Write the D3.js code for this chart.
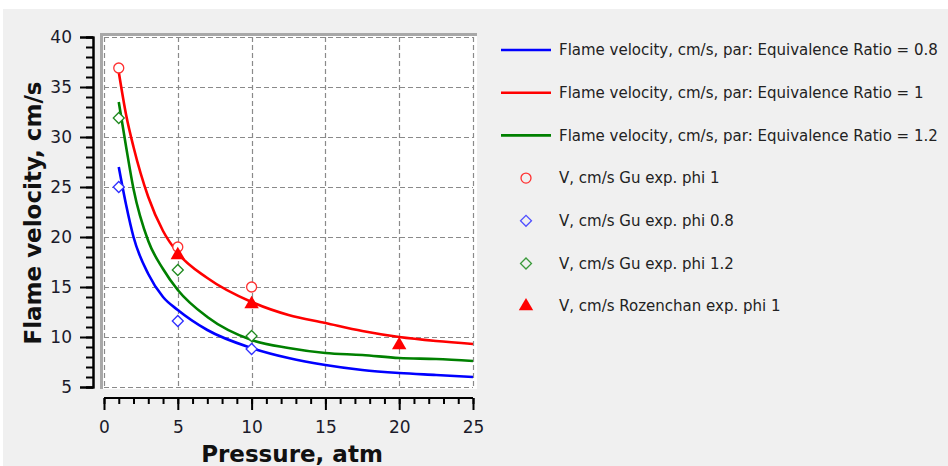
<!DOCTYPE html>
<html>
<head>
<meta charset="utf-8">
<script src="https://cdn.jsdelivr.net/npm/d3@7"></script>
<style>
  html, body { margin: 0; padding: 0; background: #fff; }
  svg { display: block; }
</style>
</head>
<body>
<svg id="mainsvg" width="948" height="466"></svg>
<script>
// model curves (pressure, atm)
const pressure = [1, 1.5, 2, 3, 4, 5, 7, 10, 12.5, 15, 17.5, 20, 22.5, 25];
const velPhi08 = [27.0, 23.2, 20.0, 16.3, 14.0, 12.7, 10.7, 8.9, 7.9, 7.2, 6.7, 6.4, 6.2, 6.0];
const velPhi10 = [36.5, 32.2, 29.0, 24.0, 20.6, 18.4, 15.9, 13.5, 12.2, 11.4, 10.6, 10.0, 9.6, 9.3];
const velPhi12 = [33.5, 29.0, 24.8, 19.6, 16.8, 14.7, 12.0, 9.7, 8.9, 8.4, 8.2, 7.9, 7.8, 7.6];

// experiments
const guP = [1, 5, 10];
const guPhi10 = [36.9, 19.0, 15.0];
const guPhi08 = [25.0, 11.6, 8.8];
const guPhi12 = [31.9, 16.7, 10.1];
const rozP = [5, 10, 20];
const rozPhi10 = [18.2, 13.3, 9.2];

const xTicks = [0, 5, 10, 15, 20, 25];
const yTicks = [5, 10, 15, 20, 25, 30, 35, 40];

const svg = d3.select('#mainsvg');
const font = 'DejaVu Sans, Verdana, sans-serif';

// grey panel
svg.append('rect').attr('x', 3).attr('y', 9).attr('width', 945).attr('height', 457).attr('fill', '#f0f0f0');

const xScale = d3.scaleLinear().domain([0, 25]).range([104, 473]);
const yScale = d3.scaleLinear().domain([5, 40]).range([387, 37]);

// plot area
svg.append('rect').attr('x', 100).attr('y', 33).attr('width', 377).attr('height', 356).attr('fill', '#fff');
svg.append('rect').attr('x', 100).attr('y', 33).attr('width', 377).attr('height', 3).attr('fill', '#a8a8a8');
svg.append('rect').attr('x', 100).attr('y', 33).attr('width', 3).attr('height', 356).attr('fill', '#a8a8a8');

// grid
const grid = svg.append('g').attr('stroke', '#8a8a8a').attr('stroke-width', 1.2).attr('stroke-dasharray', '5,3');
grid.selectAll('.gx').data(xTicks).enter().append('line')
  .attr('x1', d => Math.round(xScale(d)) + 0.5).attr('x2', d => Math.round(xScale(d)) + 0.5)
  .attr('y1', yScale(40)).attr('y2', yScale(5));
grid.selectAll('.gy').data(yTicks).enter().append('line')
  .attr('y1', d => Math.round(yScale(d)) + 0.5).attr('y2', d => Math.round(yScale(d)) + 0.5)
  .attr('x1', xScale(0)).attr('x2', xScale(25));

// y axis
svg.append('g').attr('transform', 'translate(93,0)')
  .call(d3.axisLeft(yScale).tickValues(d3.range(5, 41, 1)).tickSize(7).tickFormat(''));
svg.append('g').attr('transform', 'translate(93,0)')
  .call(d3.axisLeft(yScale).tickValues(yTicks).tickSize(13).tickPadding(8));
// x axis
const xAxisG = svg.append('g').attr('transform', 'translate(0,398)')
  .call(d3.axisBottom(xScale).tickValues(d3.range(0, 26, 1)).tickSize(6).tickFormat(''));
const xMajor = svg.append('g').attr('transform', 'translate(0,398)')
  .call(d3.axisBottom(xScale).tickValues(xTicks).tickSize(12).tickPadding(11));

svg.selectAll('.domain').attr('stroke', '#000').attr('stroke-width', 2);
svg.selectAll('.tick line').attr('stroke', '#000').attr('stroke-width', 2);
svg.selectAll('.tick text').attr('fill', '#1a1a2a').style('font-family', font).style('font-size', '17px');
xAxisG.select('.domain').attr('d', 'M104,0H473');
xMajor.select('.domain').attr('d', 'M104,0H473');

// axis titles
svg.append('text').attr('x', 292).attr('y', 462).attr('text-anchor', 'middle')
  .style('font-family', font).style('font-size', '23px').style('font-weight', 'bold').attr('fill', '#111')
  .text('Pressure, atm');
svg.append('text').attr('transform', 'translate(41,213) rotate(-90)').attr('text-anchor', 'middle')
  .style('font-family', font).style('font-size', '23px').style('font-weight', 'bold').attr('fill', '#111')
  .text('Flame velocity, cm/s');

// curves
const line = d3.line().x(d => xScale(d[0])).y(d => yScale(d[1])).curve(d3.curveMonotoneX);
const curves = [
  {vals: velPhi08, color: '#0000ff'},
  {vals: velPhi12, color: '#008000'},
  {vals: velPhi10, color: '#ff0000'}
];
svg.selectAll('.curve').data(curves).enter().append('path')
  .attr('class', 'curve')
  .attr('d', c => line(pressure.map((p, i) => [p, c.vals[i]])))
  .attr('fill', 'none').attr('stroke', c => c.color).attr('stroke-width', 2.6);

// markers
const diamond = d3.symbol().type(d3.symbolSquare).size(60);
const triangle = d3.symbol().type(d3.symbolTriangle).size(90);

svg.selectAll('.gu10').data(guP).enter().append('circle')
  .attr('cx', d => xScale(d)).attr('cy', (d, i) => yScale(guPhi10[i])).attr('r', 5)
  .attr('fill', '#fff').attr('stroke', '#ff3030').attr('stroke-width', 1.3);
svg.selectAll('.gu08').data(guP).enter().append('path')
  .attr('d', diamond)
  .attr('transform', (d, i) => `translate(${xScale(d)},${yScale(guPhi08[i])}) rotate(45)`)
  .attr('fill', '#fff').attr('stroke', '#3030ff').attr('stroke-width', 1.3);
svg.selectAll('.gu12').data(guP).enter().append('path')
  .attr('d', diamond)
  .attr('transform', (d, i) => `translate(${xScale(d)},${yScale(guPhi12[i])}) rotate(45)`)
  .attr('fill', '#fff').attr('stroke', '#208a20').attr('stroke-width', 1.3);
svg.selectAll('.roz').data(rozP).enter().append('path')
  .attr('d', triangle)
  .attr('transform', (d, i) => `translate(${xScale(d)},${yScale(rozPhi10[i])})`)
  .attr('fill', '#ff0000');

// legend
const legendItems = [
  {type: 'line', color: '#0000ff', text: 'Flame velocity, cm/s, par: Equivalence Ratio = 0.8'},
  {type: 'line', color: '#ff0000', text: 'Flame velocity, cm/s, par: Equivalence Ratio = 1'},
  {type: 'line', color: '#008000', text: 'Flame velocity, cm/s, par: Equivalence Ratio = 1.2'},
  {type: 'circle', color: '#ff3030', text: 'V, cm/s Gu exp. phi 1'},
  {type: 'diamond', color: '#5050ff', text: 'V, cm/s Gu exp. phi 0.8'},
  {type: 'diamond', color: '#3a9a3a', text: 'V, cm/s Gu exp. phi 1.2'},
  {type: 'triangle', color: '#ff0000', text: 'V, cm/s Rozenchan exp. phi 1'}
];
const lg = svg.selectAll('.leg').data(legendItems).enter().append('g')
  .attr('transform', (d, i) => `translate(0,${50 + i * 42.7})`);
lg.filter(d => d.type === 'line').append('line')
  .attr('x1', 501).attr('x2', 551).attr('y1', 0).attr('y2', 0)
  .attr('stroke', d => d.color).attr('stroke-width', 2.6);
lg.filter(d => d.type === 'circle').append('circle')
  .attr('cx', 526).attr('cy', 0).attr('r', 5)
  .attr('fill', 'none').attr('stroke', d => d.color).attr('stroke-width', 1.3);
lg.filter(d => d.type === 'diamond').append('path')
  .attr('d', diamond).attr('transform', 'translate(526,0) rotate(45)')
  .attr('fill', 'none').attr('stroke', d => d.color).attr('stroke-width', 1.3);
lg.filter(d => d.type === 'triangle').append('path')
  .attr('d', triangle).attr('transform', 'translate(526,0)')
  .attr('fill', d => d.color);
lg.append('text').attr('x', 559).attr('y', 0).attr('dy', '0.35em')
  .style('font-family', font).style('font-size', '15px').attr('fill', '#222')
  .text(d => d.text);
</script>
</body>
</html>
